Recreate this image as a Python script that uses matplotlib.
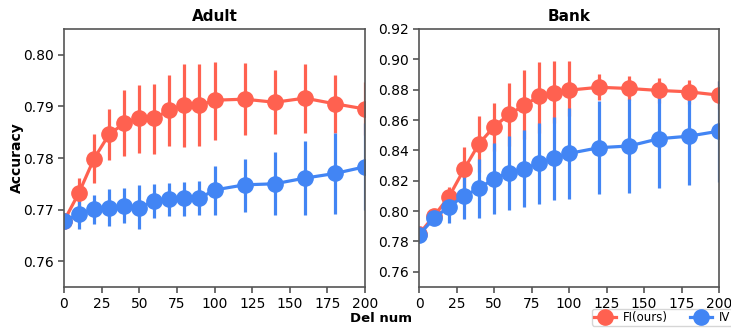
import matplotlib
matplotlib.use("Agg")
import matplotlib.pyplot as plt
from matplotlib.lines import Line2D
import numpy as np

x = [0, 10, 20, 30, 40, 50, 60, 70, 80, 90, 100, 120, 140, 160, 180, 200]

# Adult
adult_fi = [0.7678, 0.7733, 0.7799, 0.7846, 0.7867, 0.7877, 0.7877, 0.7893,
            0.7902, 0.7902, 0.7912, 0.7914, 0.7908, 0.7916, 0.7905, 0.7895]
adult_fi_lo = [0.7678, 0.7704, 0.7752, 0.7796, 0.7803, 0.7810, 0.7807, 0.7824,
               0.7822, 0.7823, 0.7835, 0.7844, 0.7847, 0.7848, 0.7849, 0.7845]
adult_fi_hi = [0.7678, 0.7762, 0.7846, 0.7894, 0.7932, 0.7942, 0.7943, 0.7961,
               0.7982, 0.7982, 0.7987, 0.7984, 0.7970, 0.7983, 0.7961, 0.7947]
adult_iv = [0.7678, 0.7691, 0.7701, 0.7704, 0.7707, 0.7704, 0.7717, 0.7720,
            0.7722, 0.7722, 0.7738, 0.7748, 0.7750, 0.7761, 0.7770, 0.7783]
adult_iv_lo = [0.7678, 0.7662, 0.7672, 0.7669, 0.7674, 0.7663, 0.7683, 0.7687,
               0.7688, 0.7689, 0.7689, 0.7696, 0.7689, 0.7689, 0.7691, 0.7700]
adult_iv_hi = [0.7678, 0.7717, 0.7729, 0.7740, 0.7742, 0.7747, 0.7749, 0.7752,
               0.7754, 0.7756, 0.7785, 0.7799, 0.7812, 0.7833, 0.7849, 0.7868]

# Bank
bank_fi = [0.7848, 0.7968, 0.8095, 0.8275, 0.8444, 0.8556, 0.8637, 0.8696,
           0.8757, 0.8779, 0.8797, 0.8816, 0.8808, 0.8795, 0.8786, 0.8764]
bank_fi_lo = [0.7848, 0.7950, 0.8034, 0.8133, 0.8258, 0.8396, 0.8428, 0.8472,
              0.8516, 0.8578, 0.8626, 0.8731, 0.8735, 0.8713, 0.8707, 0.8670]
bank_fi_hi = [0.7848, 0.7985, 0.8161, 0.8422, 0.8630, 0.8713, 0.8845, 0.8928,
              0.8981, 0.8987, 0.8987, 0.8906, 0.8893, 0.8878, 0.8867, 0.8856]
bank_iv = [0.7843, 0.7953, 0.8030, 0.8100, 0.8150, 0.8214, 0.8253, 0.8279,
           0.8315, 0.8347, 0.8380, 0.8418, 0.8429, 0.8477, 0.8494, 0.8527]
bank_iv_lo = [0.7843, 0.7935, 0.7924, 0.7946, 0.7957, 0.7979, 0.8008, 0.8027,
              0.8045, 0.8073, 0.8078, 0.8111, 0.8122, 0.8155, 0.8172, 0.8194]
bank_iv_hi = [0.7843, 0.7970, 0.8100, 0.8253, 0.8345, 0.8450, 0.8494, 0.8532,
              0.8582, 0.8621, 0.8681, 0.8724, 0.8738, 0.8779, 0.8790, 0.8856]

red = "#ff6150"
blue = "#4285f4"
spine_col = "#555555"

fig = plt.figure(figsize=(7.31, 3.29), dpi=100)
W, H = 731, 329
ax1 = fig.add_axes([64 / W, 42 / H, 301 / W, 258 / H])
ax2 = fig.add_axes([419 / W, 42 / H, 300 / W, 258 / H])


def draw(ax, m, lo, hi, color):
    m = np.array(m)
    err = [m - np.array(lo), np.array(hi) - m]
    ax.errorbar(x, m, yerr=err, fmt="-o", color=color, lw=2.3, ms=11,
                elinewidth=2.3, capsize=0)


def style(ax, title, ylim, yticks):
    ax.set_title(title, fontsize=11, fontweight="bold")
    ax.set_xlim(0, 200)
    ax.set_ylim(*ylim)
    ax.set_xticks([0, 25, 50, 75, 100, 125, 150, 175, 200])
    ax.set_yticks(yticks)
    ax.set_yticklabels([f"{t:.2f}" for t in yticks])
    for s in ax.spines.values():
        s.set_color(spine_col)
        s.set_linewidth(1.2)
    ax.tick_params(colors=spine_col, labelcolor="black", labelsize=10,
                   length=4, width=1.2)


draw(ax1, adult_fi, adult_fi_lo, adult_fi_hi, red)
draw(ax1, adult_iv, adult_iv_lo, adult_iv_hi, blue)
style(ax1, "Adult", (0.755, 0.805), [0.76, 0.77, 0.78, 0.79, 0.80])
ax1.set_ylabel("Accuracy", fontsize=10, fontweight="bold")
ax1.yaxis.set_label_coords(-0.133, 0.5)

draw(ax2, bank_fi, bank_fi_lo, bank_fi_hi, red)
draw(ax2, bank_iv, bank_iv_lo, bank_iv_hi, blue)
style(ax2, "Bank", (0.75, 0.92), [0.76, 0.78, 0.80, 0.82, 0.84, 0.86, 0.88, 0.90, 0.92])

fig.text(381 / W, 1 - 319 / H, "Del num", ha="center", va="center",
         fontsize=9.5, fontweight="bold")

handles = [Line2D([], [], color=red, marker="o", lw=2.3, ms=11),
           Line2D([], [], color=blue, marker="o", lw=2.3, ms=11)]
fig.legend(handles, ["FI(ours)", "IV"], loc="upper left",
           bbox_to_anchor=(592 / W, 1 - 309 / H), ncol=2, fontsize=8.5,
           frameon=True, borderaxespad=0, borderpad=0.15,
           handlelength=1.9, handletextpad=0.6, columnspacing=1.8)

fig.savefig("out.png", dpi=100)
